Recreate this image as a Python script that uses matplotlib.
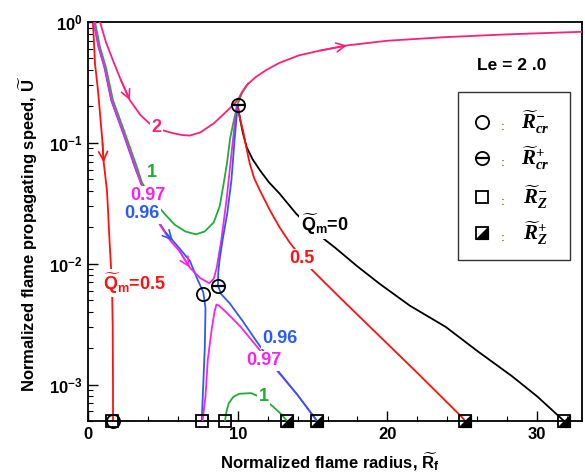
import numpy as np
import matplotlib.pyplot as plt
from matplotlib.patches import Rectangle
from matplotlib.ticker import LogLocator, NullFormatter

plt.rcParams['font.family'] = 'Liberation Sans'
plt.rcParams['font.weight'] = 'bold'
plt.rcParams['mathtext.fontset'] = 'custom'
plt.rcParams['mathtext.rm'] = 'Liberation Sans'
plt.rcParams['mathtext.bf'] = 'Liberation Sans:bold'
plt.rcParams['mathtext.it'] = 'Liberation Sans:italic'
plt.rcParams['mathtext.bfit'] = 'Liberation Serif:bold:italic'

PINK = '#ff1f78'
GREEN = '#1fae35'
MAGENTA = '#f622f0'
BLUE = '#2a5cf5'
RED = '#ff1010'

# Qm = 2
q2_x = [0.8, 1.2, 1.67, 2.2, 2.8, 3.5, 4.1, 4.9, 5.7, 6.3, 6.8, 7.5, 8.4, 9.0, 9.5, 10.0,
        10.3, 10.6, 11.2, 11.9, 12.8, 14.1, 15.5, 17.3, 20.0, 23.9, 28.0, 33.0]
q2_y = [1.0, 0.68, 0.48, 0.33, 0.225, 0.17, 0.145, 0.128, 0.12, 0.116, 0.115, 0.122, 0.145,
        0.17, 0.195, 0.225, 0.265, 0.3, 0.35, 0.40, 0.46, 0.53, 0.58, 0.64, 0.70, 0.75, 0.79, 0.83]

# Qm = 1
q1_x = [0.47, 0.8, 1.2, 1.67, 2.47, 3.27, 3.6, 4.3, 5.1, 5.8, 6.5, 7.2, 7.8, 8.4, 8.8, 9.1,
        9.3, 9.5, 9.75, 10.0, 10.3, 10.7]
q1_y = [1.0, 0.62, 0.42, 0.225, 0.12, 0.063, 0.047, 0.034, 0.026, 0.021, 0.0185, 0.0175,
        0.0185, 0.022, 0.03, 0.049, 0.07, 0.11, 0.155, 0.21, 0.26, 0.31]
q1b_x = [9.15, 9.25, 9.4, 9.7, 10.1, 10.9, 11.6, 12.35, 12.9, 13.3]
q1b_y = [5e-4, 6e-4, 7e-4, 7.9e-4, 8.4e-4, 8.5e-4, 7.8e-4, 6.6e-4, 5.7e-4, 5e-4]

# Qm = 0.97
q097_x = [0.4, 0.72, 1.12, 1.58, 2.38, 3.18, 3.55, 4.2, 4.8, 5.5, 6.1, 6.8, 7.5, 8.1, 8.4,
          8.6, 8.9, 9.27, 9.6, 9.93]
q097_y = [1.0, 0.62, 0.42, 0.225, 0.12, 0.062, 0.046, 0.031, 0.021, 0.0155, 0.0128, 0.0093,
          0.0076, 0.0069, 0.0075, 0.0093, 0.0155, 0.035, 0.085, 0.2]
q097b_x = [7.65, 7.85, 8.0, 8.27, 8.45, 8.58, 8.75, 9.3, 10.2, 11.1, 12.0, 12.8, 14.0, 15.3]
q097b_y = [5e-4, 8e-4, 0.0016, 0.0029, 0.004, 0.0046, 0.0045, 0.0039, 0.003, 0.0022, 0.0016,
           0.00123, 0.00082, 5e-4]

# Qm = 0.96
q096a_x = [0.38, 0.7, 1.1, 1.55, 2.35, 3.15, 3.55, 4.2, 4.8, 5.2, 5.67, 6.2, 6.8, 7.3, 7.7,
           7.85, 7.8, 7.7, 7.6]
q096a_y = [1.0, 0.62, 0.42, 0.225, 0.12, 0.062, 0.046, 0.031, 0.0215, 0.018, 0.0155, 0.013,
           0.0106, 0.0075, 0.0058, 0.0043, 0.002, 0.001, 5e-4]
q096b_x = [10.0, 9.8, 9.58, 9.3, 9.0, 8.8, 8.7, 8.68, 8.9, 9.47, 10.3, 11.24, 12.0, 12.8,
           14.0, 15.3]
q096b_y = [0.205, 0.11, 0.049, 0.026, 0.016, 0.011, 0.0085, 0.0066, 0.0056, 0.0047, 0.0034,
           0.0023, 0.0017, 0.00125, 0.00082, 5e-4]

# Qm = 0.5
q05l_x = [0.33, 0.47, 0.67, 0.85, 0.97, 1.05, 1.27, 1.47, 1.6, 1.65, 1.67, 1.67]
q05l_y = [1.0, 0.45, 0.27, 0.15, 0.1, 0.069, 0.04, 0.013, 0.007, 0.003, 0.001, 5e-4]
q05r_x = [10.0, 10.07, 10.2, 10.35, 10.55, 10.8, 11.1, 11.5, 12.2, 12.8, 13.5, 15.0, 17.0,
          19.5, 22.0, 24.9, 25.2]
q05r_y = [0.205, 0.176, 0.15, 0.127, 0.095, 0.068, 0.051, 0.04, 0.027, 0.02, 0.0148, 0.0088,
          0.005, 0.0025, 0.00125, 5.5e-4, 5e-4]

# Qm = 0
q0_x = [10.0, 10.08, 10.15, 10.35, 10.6, 11.0, 11.5, 12.1, 12.8, 13.9, 15.0, 16.5, 18.0,
        19.5, 21.5, 23.9, 26.0, 28.3, 30.0, 31.8]
q0_y = [0.205, 0.18, 0.16, 0.12, 0.092, 0.073, 0.059, 0.047, 0.038, 0.026, 0.019, 0.0136,
        0.0095, 0.0068, 0.0045, 0.003, 0.0019, 0.00118, 8e-4, 5e-4]

# critical radii and zero-speed radii
rcr_minus_x = [1.67, 7.68]
rcr_minus_y = [5e-4, 0.0056]
rcr_plus_x = [10.0, 8.68]
rcr_plus_y = [0.205, 0.0066]
rz_minus_x = [1.6, 7.6, 9.15]
rz_minus_y = [5e-4, 5e-4, 5e-4]
rz_plus_x = [13.3, 15.3, 25.2, 31.8]
rz_plus_y = [5e-4, 5e-4, 5e-4, 5e-4]

fig = plt.figure(figsize=(5.85, 4.75), dpi=100)
ax = fig.add_axes([88 / 585, 1 - 421 / 475, 494 / 585, 399 / 475])
ax.set_yscale('log')
ax.set_xlim(0, 33)
ax.set_ylim(5e-4, 1)

lw = 1.3
ax.plot(q0_x, q0_y, color='k', lw=lw, zorder=2)
ax.plot(q05r_x, q05r_y, color=RED, lw=lw, zorder=2)
ax.plot(q05l_x, q05l_y, color=RED, lw=lw, zorder=2)
ax.plot(q096a_x, q096a_y, color=BLUE, lw=lw, zorder=2)
ax.plot(q1_x, q1_y, color=GREEN, lw=lw, zorder=3)
ax.plot(q1b_x, q1b_y, color=GREEN, lw=lw, zorder=3)
ax.plot(q097_x, q097_y, color=MAGENTA, lw=lw, zorder=3)
ax.plot(q097b_x, q097b_y, color=MAGENTA, lw=lw, zorder=3)
ax.plot(q096b_x, q096b_y, color=BLUE, lw=lw, zorder=3.5)
ax.plot(q2_x, q2_y, color=PINK, lw=lw, zorder=4)


def arrow_on(xs, ys, i, color):
    ax.annotate('', xy=(xs[i + 1], ys[i + 1]), xytext=(xs[i], ys[i]),
                arrowprops=dict(arrowstyle='->', color=color, lw=1.2,
                                mutation_scale=16, shrinkA=0, shrinkB=0), zorder=4)


arrow_on(q2_x, q2_y, 3, PINK)
arrow_on(q2_x, q2_y, 22, PINK)
arrow_on(q05l_x, q05l_y, 4, RED)
arrow_on(q097_x, q097_y, 10, MAGENTA)
arrow_on(q096a_x, q096a_y, 9, BLUE)

# curve labels, white boxes cut the lines underneath
lab = dict(fontsize=13, fontweight='bold', ha='center', va='center', zorder=5,
           bbox=dict(fc='white', ec='none', pad=1.0))
ax.text(4.6, 0.134, '2', color=PINK, **lab)
ax.text(4.24, 0.057, '1', color=GREEN, **lab)
ax.text(4.0, 0.0366, '0.97', color=MAGENTA, **lab)
ax.text(3.58, 0.0258, '0.96', color=BLUE, **lab)
ax.text(3.07, 0.0069, r'$\mathbf{\widetilde{Q}}_{\mathrm{m}}$=0.5', color=RED, **lab)
ax.text(15.8, 0.021, r'$\mathbf{\widetilde{Q}}_{\mathrm{m}}$=0', color='k', **lab)
ax.text(14.3, 0.011, '0.5', color=RED, **lab)
ax.text(12.8, 0.0024, '0.96', color=BLUE, **lab)
ax.text(11.77, 0.00157, '0.97', color=MAGENTA, **lab)
ax.text(11.73, 8.0e-4, '1', color=GREEN, **lab)

ms = 9.5
mew = 1.3
tri = [(-1, -1), (1, 1), (1, -1), (-1, -1)]


def draw_marks(kind, xs, ys, transform):
    kw = dict(ls='none', clip_on=False, zorder=6, transform=transform)
    if kind == 'cr-':
        ax.plot(xs, ys, marker='o', ms=ms, mfc='none', mec='k', mew=mew, **kw)
    elif kind == 'cr+':
        ax.plot(xs, ys, marker='o', ms=ms, mfc='none', mec='k', mew=mew, **kw)
        ax.plot(xs, ys, marker='_', ms=ms, mec='k', mew=mew + 0.3, **kw)
    elif kind == 'z-':
        ax.plot(xs, ys, marker='s', ms=ms - 1, mfc='none', mec='k', mew=mew, **kw)
    else:
        ax.plot(xs, ys, marker='s', ms=ms - 1, mfc='none', mec='k', mew=mew, **kw)
        ax.plot(xs, ys, marker=tri, ms=ms - 1, mfc='k', mec='k', mew=1.0, **kw)


draw_marks('z-', rz_minus_x, rz_minus_y, ax.transData)
draw_marks('cr-', rcr_minus_x, rcr_minus_y, ax.transData)
draw_marks('cr+', rcr_plus_x, rcr_plus_y, ax.transData)
draw_marks('z+', rz_plus_x, rz_plus_y, ax.transData)

# key box
ax.add_patch(Rectangle((0.749, 0.404), 0.227, 0.421, transform=ax.transAxes,
                       fill=False, ec='#333333', lw=1.0, zorder=6))
key_kinds = ['cr-', 'cr+', 'z-', 'z+']
key_labels = [r'$\mathbfit{\widetilde{R}_{cr}^{-}}$', r'$\mathbfit{\widetilde{R}_{cr}^{+}}$',
              r'$\mathbfit{\widetilde{R}_{Z}^{-}}$', r'$\mathbfit{\widetilde{R}_{Z}^{+}}$']
key_rows = [0.749, 0.659, 0.561, 0.471]
for kind, text, yy in zip(key_kinds, key_labels, key_rows):
    draw_marks(kind, [0.798], [yy], ax.transAxes)
    ax.text(0.840, yy - 0.012, ':', transform=ax.transAxes, fontsize=8,
            color='#8a7a3a', ha='center', va='center', zorder=6)
    ax.text(0.905, yy, text, transform=ax.transAxes, fontsize=15,
            ha='center', va='center', zorder=6)

ax.text(0.858, 0.89, 'Le = 2 .0', transform=ax.transAxes, fontsize=12.5,
        fontweight='bold', ha='center', va='center')

# axes styling
ax.set_xticks([0, 10, 20, 30])
ax.set_xticklabels(['0', '10', '20', '30'])
ax.set_xticks(np.arange(2, 33, 2), minor=True)
ax.set_yticks([1e-3, 1e-2, 1e-1, 1])
ax.set_yticklabels([r'$\mathbf{10^{-3}}$', r'$\mathbf{10^{-2}}$',
                    r'$\mathbf{10^{-1}}$', r'$\mathbf{10^{0}}$'])
ax.yaxis.set_minor_locator(LogLocator(base=10, subs=np.arange(2, 10)))
ax.yaxis.set_minor_formatter(NullFormatter())
ax.tick_params(which='both', direction='in', top=False, right=False, labelsize=12)
ax.tick_params(which='major', length=7, width=1.0, pad=4)
ax.tick_params(which='minor', length=3.5, width=0.8)
for sp in ax.spines.values():
    sp.set_linewidth(1.3)

ax.set_xlabel(r'Normalized flame radius, $\mathbf{\widetilde{R}}_{\mathrm{f}}$',
              fontsize=12, fontweight='bold')
ax.set_ylabel(r'Normalized flame propagating speed, $\mathbf{\widetilde{U}}$',
              fontsize=12, fontweight='bold')
ax.xaxis.set_label_coords(0.49, -0.075)
ax.yaxis.set_label_coords(-0.098, 0.47)

fig.savefig('out.png', dpi=100)
